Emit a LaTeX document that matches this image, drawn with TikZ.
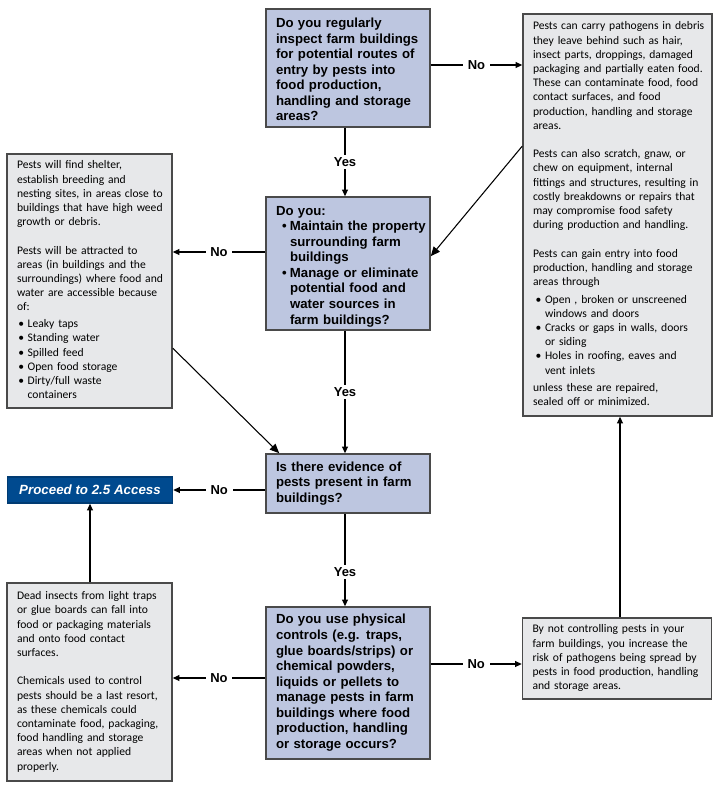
\documentclass[tikz,border=0pt]{standalone}
\usepackage{fontspec}
\setmainfont{Liberation Sans}
\newfontfamily\qfont{Liberation Sans}
\newfontfamily\gfont{Carlito}
\usetikzlibrary{arrows.meta,calc}
\definecolor{qfill}{HTML}{BDC6E0}
\definecolor{gfill}{HTML}{E7E8EA}
\definecolor{bord}{HTML}{4A4A4A}
\definecolor{pblue}{HTML}{004A8F}
\newcommand\boxlines[1]{\begin{tabular}{@{}l@{}}#1\end{tabular}}
\newcommand\gbul{\hspace*{2pt}\makebox[7pt][l]{•}}
\newcommand\gind{\hspace*{9pt}}
\newcommand\qbul{\hspace*{4.5pt}\makebox[6pt][l]{•}}
\newcommand\qind{\hspace*{10.5pt}}
\newcommand\toppush{\rule{0pt}{12.7pt}}
\begin{document}
\begin{tikzpicture}[x=0.75pt,y=-0.75pt,
  qbox/.style={draw=bord, line width=1.2pt, fill=qfill, minimum width=123pt,
    text width=108pt, inner xsep=7.5pt, inner ysep=0pt, align=left,
    font=\qfont\bfseries\fontsize{9.9}{11.65}\selectfont},
  gbox/.style={draw=bord, line width=1.2pt, fill=gfill, inner xsep=7.5pt,
    inner ysep=0pt, align=left, font=\gfont\fontsize{8.7}{10.65}\selectfont},
  pbox/.style={draw=pblue!80!black, line width=1.2pt, fill=pblue, text=white,
    minimum width=123.75pt, minimum height=19.5pt, inner sep=0pt,
    font=\qfont\bfseries\itshape\fontsize{10}{12}\selectfont},
  conn/.style={draw=black, line width=0.8pt, -{Triangle[length=5pt,width=4.5pt]}},
  conn2/.style={draw=black, line width=0.8pt, -{Triangle[length=7pt,width=6pt]}},
  lab/.style={fill=white, inner xsep=3.5pt, inner ysep=2pt, text=black,
    font=\qfont\bfseries\fontsize{9.75}{12}\selectfont}]
\useasboundingbox (0,0) rectangle (720,789);

% question boxes
\node[qbox, minimum height=88.5pt] (q1) at (348,68) {\boxlines{\toppush Do you regularly\\inspect farm buildings\\for potential routes of\\entry by pests into\\food production,\\handling and storage\\areas?}};
\node[qbox, minimum height=99.75pt] (q2) at (348,263.5) {\boxlines{\toppush Do you:\\\qbul Maintain the property\\\qind surrounding farm\\\qind buildings\\\qbul Manage or eliminate\\\qind potential food and\\\qind water sources in\\\qind farm buildings?}};
\node[qbox, minimum height=44.25pt] (q3) at (348,483.5) {\boxlines{Is there evidence of\\pests present in farm\\buildings?}};
\node[qbox, minimum height=114pt] (q4) at (348,683) {\boxlines{Do you use physical\\controls (e.g. traps,\\glue boards/strips) or\\chemical powders,\\liquids or pellets to\\manage pests in farm\\buildings where food\\production, handling\\or storage occurs?}};

% information boxes
\node[gbox, text width=126.75pt, minimum height=301.5pt] (r1) at (617.5,215) {\boxlines{Pests can carry pathogens in debris\\they leave behind such as hair,\\insect parts, droppings, damaged\\packaging and partially eaten food.\\These can contaminate food, food\\contact surfaces, and food\\production, handling and storage\\areas.\\ \\Pests can also scratch, gnaw, or\\chew on equipment, internal\\fittings and structures, resulting in\\costly breakdowns or repairs that\\may compromise food safety\\during production and handling.\\ \\Pests can gain entry into food\\production, handling and storage\\areas through\\[2.5pt]\gbul Open , broken or unscreened\\\gind windows and doors\\\gbul Cracks or gaps in walls, doors\\\gind or siding\\\gbul Holes in roofing, eaves and\\\gind vent inlets\\[2.5pt]unless these are repaired,\\sealed off or minimized.}};
\node[gbox, text width=108.75pt, minimum height=190.5pt] (l1) at (89.5,281) {\boxlines{Pests will find shelter,\\establish breeding and\\nesting sites, in areas close to\\buildings that have high weed\\growth or debris.\\ \\Pests will be attracted to\\areas (in buildings and the\\surroundings) where food and\\water are accessible because\\of:\\[2pt]\hspace*{-1pt}\gbul Leaky taps\\\hspace*{-1pt}\gbul Standing water\\\hspace*{-1pt}\gbul Spilled feed\\\hspace*{-1pt}\gbul Open food storage\\\hspace*{-1pt}\gbul Dirty/full waste\\\hspace*{-1pt}\gind containers}};
\node[gbox, text width=108.75pt, minimum height=148.5pt] (l2) at (89.5,682) {\boxlines{Dead insects from light traps\\or glue boards can fall into\\food or packaging materials\\and onto food contact\\surfaces.\\ \\Chemicals used to control\\pests should be a last resort,\\as these chemicals could\\contaminate food, packaging,\\food handling and storage\\areas when not applied\\properly.}};
\node[gbox, text width=126.75pt, minimum height=60.75pt] (r2) at (617,658.5) {\boxlines{By not controlling pests in your\\farm buildings, you increase the\\risk of pathogens being spread by\\pests in food production, handling\\and storage areas.}};

% proceed box
\node[pbox] (p) at (90,490) {Proceed to 2.5 Access};

% helper coordinates
\coordinate (yx) at (345,0);
\coordinate (h1) at (0,65);
\coordinate (h2) at (0,252);
\coordinate (h3) at (0,490);
\coordinate (h4) at (0,678);
\coordinate (h5) at (0,664);
\coordinate (vx1) at (620,0);
\coordinate (vx2) at (90,0);
\coordinate (d1s) at ($(r1.north west)+(0,133)$);
\coordinate (d1e) at ($(q2.north east)+(0,60)$);
\coordinate (d2s) at ($(l1.north east)+(0,195)$);
\coordinate (d2e) at ($(q3.north west)+(14,0)$);

% yes connectors
\draw[conn] (q1.south -| yx) -- node[lab]{Yes} (q2.north -| yx);
\draw[conn] (q2.south -| yx) -- node[lab]{Yes} (q3.north -| yx);
\draw[conn] (q3.south -| yx) -- node[lab,pos=0.63]{Yes} (q4.north -| yx);

% no connectors
\draw[conn] (q1.east |- h1) -- node[lab]{No} (r1.west |- h1);
\draw[conn] (q2.west |- h2) -- node[lab]{No} (l1.east |- h2);
\draw[conn] (q3.west |- h3) -- node[lab]{No} (p.east |- h3);
\draw[conn] (q4.west |- h4) -- node[lab]{No} (l2.east |- h4);
\draw[conn] (q4.east |- h5) -- node[lab]{No} (r2.west |- h5);

% other connectors
\draw[conn] (r2.north -| vx1) -- (r1.south -| vx1);
\draw[conn] (l2.north -| vx2) -- (p.south -| vx2);
\draw[conn2] (d1s) -- (d1e);
\draw[conn2] (d2s) -- (d2e);
\end{tikzpicture}
\end{document}
